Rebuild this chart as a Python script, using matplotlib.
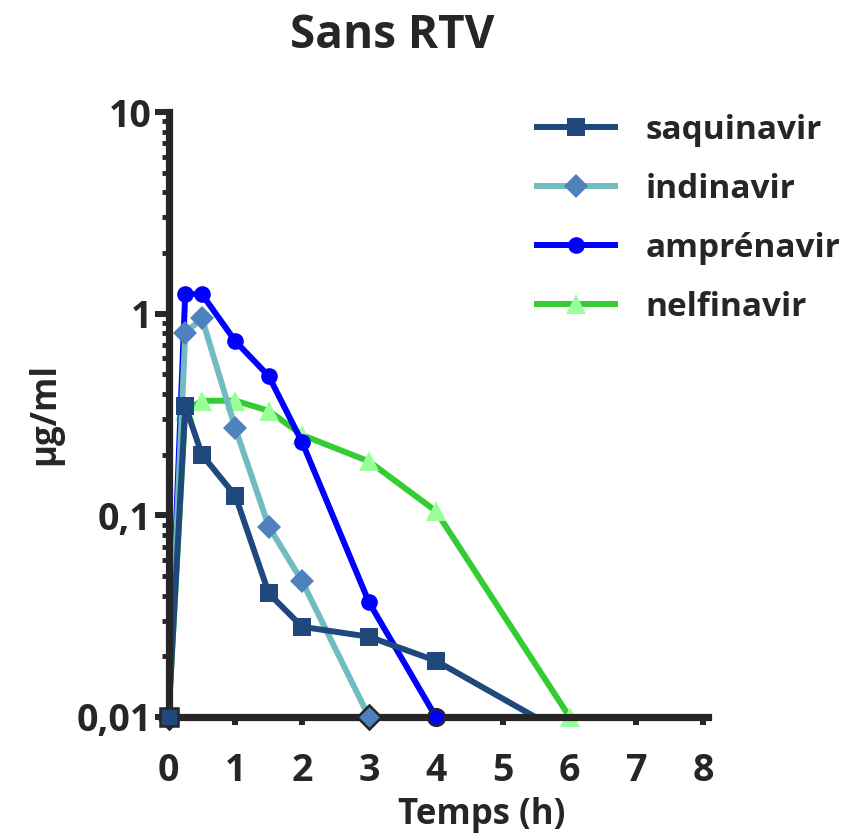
import sys

import matplotlib
matplotlib.use("Agg")
from matplotlib import pyplot as plt
from matplotlib.ticker import FixedLocator, LogLocator, NullFormatter

# data (time in hours, concentration in ug/ml)
saq_time = [0, 0.25, 0.5, 1, 1.5, 2, 3, 4, 6]
saq_conc = [0.01, 0.35, 0.2, 0.125, 0.041, 0.028, 0.025, 0.019, 0.008]

ind_time = [0, 0.25, 0.5, 1, 1.5, 2, 3]
ind_conc = [0.01, 0.8, 0.95, 0.27, 0.088, 0.047, 0.01]

amp_time = [0, 0.25, 0.5, 1, 1.5, 2, 3, 4]
amp_conc = [0.01, 1.25, 1.25, 0.73, 0.49, 0.23, 0.037, 0.01]

nel_time = [0, 0.25, 0.5, 1, 1.5, 2, 3, 4, 6]
nel_conc = [0.01, 0.33, 0.37, 0.37, 0.33, 0.25, 0.185, 0.105, 0.01]

x_ticks = [0, 1, 2, 3, 4, 5, 6, 7, 8]
y_ticks = [0.01, 0.1, 1, 10]
y_tick_labels = ["0,01", "0,1", "1", "10"]

title = "Sans RTV"
x_label = "Temps (h)"
y_label = "µg/ml"

DARK = "#262626"
YMIN = 0.01


def plot_series(ax, t, c, name, line_color, face, marker, msize, edge_on_axis, z):
    # line is clipped so a value under the axis just runs out of the plot
    ax.plot(t, c, color=line_color, lw=4.3, zorder=z, clip_on=True,
            solid_capstyle="butt")
    # markers for the values inside the range, drawn over the spines
    pts = [(a, b) for a, b in zip(t, c) if b >= YMIN]
    for a, b in pts:
        edge = DARK if (edge_on_axis and b == YMIN) else face
        ax.plot([a], [b], marker=marker, ms=msize, mfc=face, mec=edge,
                mew=1.8 if edge == DARK else 0, ls="none",
                zorder=z + (10 if edge_on_axis else 0), clip_on=False)
    # proxy for the legend
    return ax.plot([], [], color=line_color, lw=4.3, marker=marker,
                   ms=msize, mfc=face, mec=face, mew=0, label=name)[0]


def __main__():
    plt.rcParams["font.family"] = ["Open Sans", "DejaVu Sans"]
    plt.rcParams["font.weight"] = "bold"
    plt.rcParams["text.color"] = DARK

    fig = plt.figure(figsize=(8.55, 8.39), dpi=100)
    left = 168.5 / 855
    right = 708 / 855
    bottom = 1 - 717 / 839
    top = 1 - 112 / 839
    ax = fig.add_axes([left, bottom, right - left, top - bottom])

    ax.set_yscale("log")
    ax.set_xlim(0, 8.07)
    ax.set_ylim(0.01, 10)

    handles = []
    handles.append(plot_series(ax, nel_time, nel_conc, "nelfinavir",
                               "#33CC33", "#99FF99", "^", 15, False, 3))
    handles.append(plot_series(ax, amp_time, amp_conc, "amprénavir",
                               "#0000FF", "#0000FF", "o", 12, True, 4))
    handles.append(plot_series(ax, ind_time, ind_conc, "indinavir",
                               "#72BCC1", "#4F81BD", "D", 12, True, 5))
    handles.append(plot_series(ax, saq_time, saq_conc, "saquinavir",
                               "#1F497D", "#1F497D", "s", 13, True, 6))
    handles = handles[::-1]

    # axes styling
    for side in ["top", "right"]:
        ax.spines[side].set_visible(False)
    for side in ["left", "bottom"]:
        ax.spines[side].set_linewidth(5.2)
        ax.spines[side].set_color(DARK)
        ax.spines[side].set_zorder(8)

    ax.xaxis.set_major_locator(FixedLocator(x_ticks))
    ax.set_xticklabels([str(v) for v in x_ticks])
    ax.yaxis.set_major_locator(FixedLocator(y_ticks))
    ax.set_yticklabels(y_tick_labels)
    ax.yaxis.set_minor_locator(LogLocator(base=10, subs=range(2, 10)))
    ax.yaxis.set_minor_formatter(NullFormatter())

    ax.tick_params(axis="x", which="major", length=6, width=4.3, color=DARK,
                   labelsize=27, pad=19, labelcolor=DARK)
    ax.tick_params(axis="y", which="major", length=10, width=4.3, color=DARK,
                   labelsize=27, pad=2, labelcolor=DARK)
    ax.tick_params(axis="y", which="minor", length=5, width=3.5, color=DARK)
    ax.tick_params(axis="x", which="minor", bottom=False)

    # titles and axis labels
    fig.text(392 / 855, 1 - 35 / 839, title, fontsize=33, fontweight="bold",
             ha="center", va="center")
    fig.text(482 / 855, 1 - 815 / 839, x_label, fontsize=25,
             fontweight="bold", ha="center", va="center")
    fig.text(45 / 855, 1 - 414 / 839, y_label, fontsize=25,
             fontweight="bold", ha="center", va="center", rotation=90)

    leg = fig.legend(handles=handles, loc="upper left",
                     bbox_to_anchor=(537 / 855, 1 - 114 / 839),
                     frameon=False, borderpad=0, borderaxespad=0,
                     handlelength=2.35, handletextpad=0.9, labelspacing=0.78,
                     numpoints=1, prop={"size": 24, "weight": "bold"})
    for txt in leg.get_texts():
        txt.set_color(DARK)

    fig.savefig("out.png", dpi=100)


if __name__ == "__main__":
    sys.exit(__main__())
